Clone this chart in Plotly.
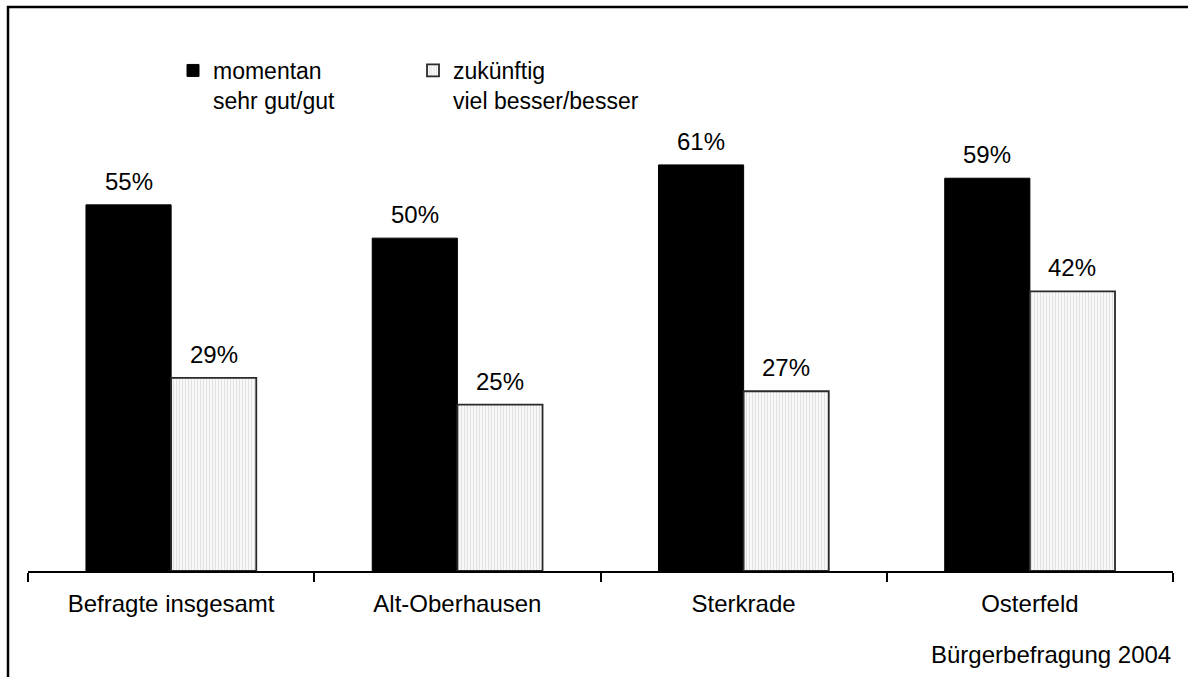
import plotly.graph_objects as go

categories = ["Befragte insgesamt", "Alt-Oberhausen", "Sterkrade", "Osterfeld"]
momentan = [55, 50, 61, 59]
zukuenftig = [29, 25, 27, 42]
series_names = ["momentan<br>sehr gut/gut", "zukünftig<br>viel besser/besser"]
source_note = "Bürgerbefragung 2004"

FONT = "Arial, 'Liberation Sans', sans-serif"
FS = 24

W, H = 1188, 677
ML, MR, MT, MB = 28, 15, 105, 106
PW = W - ML - MR
PH = H - MT - MB


def px_x(px):
    return (px - ML) / PW


def px_y(py):
    return (H - MB - py) / PH


fig = go.Figure()
fig.add_trace(go.Bar(
    x=categories, y=momentan, name=series_names[0],
    marker=dict(color="#000000", line=dict(color="#000000", width=1)),
))
fig.add_trace(go.Bar(
    x=categories, y=zukuenftig, name=series_names[1],
    marker=dict(color="#f6f6f6", line=dict(color="#2a2a2a", width=1.8),
                pattern=dict(shape="|", size=3, solidity=0.3,
                             fgcolor="#c8c8c8", bgcolor="#f8f8f8")),
))

# value labels above bars
annotations = []
for vals, shift in ((momentan, -42.5), (zukuenftig, 42.5)):
    for c, v in zip(categories, vals):
        annotations.append(dict(
            x=c, y=v, xref="x", yref="y", text=f"{v}%", showarrow=False,
            xshift=shift, yshift=8, yanchor="bottom", xanchor="center",
            font=dict(family=FONT, size=FS, color="#000"),
        ))
annotations.append(dict(
    x=px_x(1173), y=px_y(654), xref="paper", yref="paper", text=source_note,
    showarrow=False, xanchor="right", yanchor="middle",
    font=dict(family=FONT, size=FS, color="#000"),
))

fig.update_layout(
    width=W, height=H,
    margin=dict(l=ML, r=MR, t=MT, b=MB, pad=0),
    paper_bgcolor="#ffffff", plot_bgcolor="#ffffff",
    barmode="group", bargap=0.405, bargroupgap=0,
    font=dict(family=FONT, size=FS, color="#000"),
    showlegend=True,
    legend=dict(
        orientation="h", x=px_x(173), y=px_y(49), xanchor="left", yanchor="top",
        valign="top", entrywidth=195, entrywidthmode="pixels",
        font=dict(family=FONT, size=23, color="#000"),
        bgcolor="rgba(0,0,0,0)", traceorder="normal",
    ),
    xaxis=dict(
        showline=True, linecolor="#000", linewidth=1.5,
        ticks="outside", ticklen=9, tickwidth=1.5, tickcolor="#000",
        tickson="boundaries", showgrid=False, range=[-0.5, 3.5],
        ticklabelstandoff=10,
        tickfont=dict(family=FONT, size=FS, color="#000"),
    ),
    yaxis=dict(visible=False, range=[0, 70], showgrid=False, zeroline=False),
    annotations=annotations,
    shapes=[dict(
        type="rect", xref="paper", yref="paper",
        x0=px_x(8), x1=px_x(1200), y0=px_y(700), y1=px_y(7),
        line=dict(color="#000", width=2.5), fillcolor="rgba(0,0,0,0)",
        layer="above",
    )],
)

fig.write_html("out.html", config={"displayModeBar": False},
               post_script="document.body.style.margin='0';")
